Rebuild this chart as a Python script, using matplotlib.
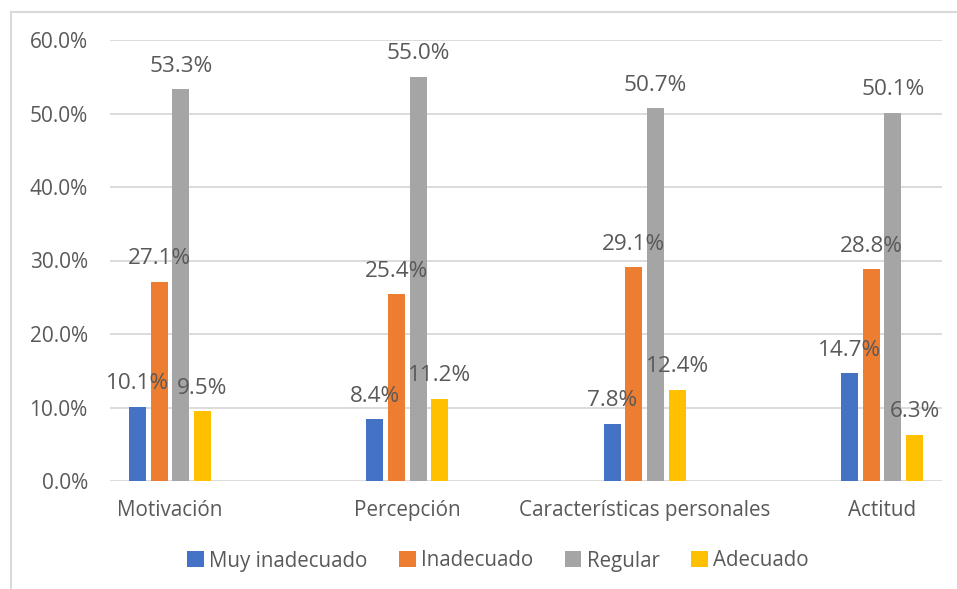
import matplotlib
matplotlib.use("Agg")
import matplotlib.pyplot as plt
import numpy as np
from matplotlib.patches import Patch
from matplotlib.lines import Line2D
from matplotlib.ticker import PercentFormatter

categories = ["Motivación", "Percepción", "Características personales", "Actitud"]
series_names = ["Muy inadecuado", "Inadecuado", "Regular", "Adecuado"]
muy_inadecuado = [10.1, 8.4, 7.8, 14.7]
inadecuado = [27.1, 25.4, 29.1, 28.8]
regular = [53.3, 55.0, 50.7, 50.1]
adecuado = [9.5, 11.2, 12.4, 6.3]
colors = ["#4472C4", "#ED7D31", "#A5A5A5", "#FFC000"]

plt.rcParams['font.family'] = ['Open Sans', 'DejaVu Sans']
txt = "#595959"
grid_c = "#D9D9D9"

fig = plt.figure(figsize=(9.57, 5.89), dpi=100)
ax = fig.add_axes([110/957, 1 - 481/589, (942-110)/957, (481-40)/589])

x = np.arange(len(categories))
pitch = 0.0914
width = 0.0716
all_series = [muy_inadecuado, inadecuado, regular, adecuado]
for i, (vals, name, c) in enumerate(zip(all_series, series_names, colors)):
    off = (i - 1.5) * pitch
    bars = ax.bar(x + off, vals, width=width, color=c, label=name, zorder=3)
    for xi, v in zip(x + off, vals):
        ax.annotate(f"{v:.1f}%", (xi, v), xytext=(0, 12.5), textcoords="offset points",
                    ha="center", va="baseline", fontsize=16.2, color=txt, zorder=4)

ax.set_ylim(0, 60)
ax.set_yticks(np.arange(0, 61, 10))
ax.yaxis.set_major_formatter(PercentFormatter(decimals=1))
ax.set_xlim(-0.2526, 3.2526)
ax.set_xticks(x)
ax.set_xticklabels(categories)
ax.grid(axis="y", color=grid_c, linewidth=1.3, zorder=0)
for s in ax.spines.values():
    s.set_visible(False)
ax.tick_params(axis="x", length=0, labelsize=14.9, colors=txt, pad=14)
ax.tick_params(axis="y", length=0, labelsize=15, colors=txt, pad=16)

handles = [Patch(facecolor=c, edgecolor="none") for c in colors]
fig.legend(handles, series_names, loc="center", bbox_to_anchor=(498/957, 1 - 561/589),
           ncol=4, frameon=False, fontsize=14.8, labelcolor=txt,
           handlelength=0.8, handleheight=0.8, handletextpad=0.25, columnspacing=1.55)

# outer chart border (cropped at right & bottom)
fig.add_artist(Line2D([11/957, 11/957], [0, 1 - 12/589], color=grid_c, lw=1.5, transform=fig.transFigure))
fig.add_artist(Line2D([11/957, 1], [1 - 12/589, 1 - 12/589], color=grid_c, lw=1.5, transform=fig.transFigure))

fig.savefig("out.png", dpi=100)
